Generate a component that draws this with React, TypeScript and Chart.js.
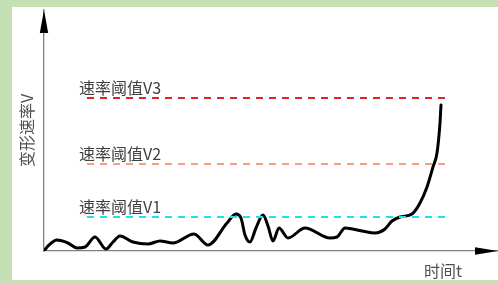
import React, { useEffect, useRef } from "react";
import { Chart, registerables } from "chart.js";

Chart.register(...registerables);

// Deformation-rate curve (time t, rate V) (arbitrary units)
const curveT = [0, 4, 13, 24, 33, 41, 51, 62, 69, 76, 89, 104, 116, 129, 150, 164, 183, 192, 197, 201, 206, 212, 219, 224, 229, 235, 244, 261, 286, 293, 301, 318, 331, 341, 348, 356, 368, 376, 383, 389, 393, 396, 397];
const curveV = [0, 5, 11, 8, 3, 4, 14, 2, 9, 15, 9, 7, 10, 8, 17, 6, 28, 37, 33, 16, 9, 23, 36, 25, 10, 23, 13, 23, 13, 14, 23, 20, 18, 22, 30, 34, 37, 48, 64, 84, 98, 128, 146];

// Thresholds
const thresholdNames = ["速率阈值V1", "速率阈值V2", "速率阈值V3"];
const thresholdValues = [34, 87, 153];
const thresholdColors = ["#1fe0f0", "#f4a080", "#e02424"];
const thresholdStart = 43;
const thresholdEnd = 404;

const xTitle = "时间t";
const yTitle = "变形速率V";

const FONT = '"Noto Sans CJK SC", "Noto Sans", sans-serif';

export default function App() {
  const ref = useRef<HTMLCanvasElement | null>(null);

  useEffect(() => {
    if (!ref.current) return;

    const bgPlugin = {
      id: "bg",
      beforeDraw(chart: any) {
        const { ctx, width, height } = chart;
        ctx.save();
        ctx.fillStyle = "#c5e0b4";
        ctx.fillRect(0, 0, width, height);
        ctx.fillStyle = "#ffffff";
        ctx.fillRect(12, 7, width - 12, 273);
        ctx.restore();
      },
    };

    const decoPlugin = {
      id: "deco",
      afterDraw(chart: any) {
        const { ctx, chartArea } = chart;
        const xs = chart.scales.x;
        const ys = chart.scales.y;
        ctx.save();
        // arrowheads
        ctx.fillStyle = "#000000";
        ctx.beginPath();
        ctx.moveTo(chartArea.left, chartArea.top);
        ctx.lineTo(chartArea.left - 4.2, chartArea.top + 23);
        ctx.lineTo(chartArea.left + 4.2, chartArea.top + 23);
        ctx.closePath();
        ctx.fill();
        ctx.beginPath();
        ctx.moveTo(chartArea.right, chartArea.bottom);
        ctx.lineTo(chartArea.right - 23, chartArea.bottom - 3.8);
        ctx.lineTo(chartArea.right - 23, chartArea.bottom + 3.8);
        ctx.closePath();
        ctx.fill();

        // threshold labels
        ctx.fillStyle = "#404040";
        ctx.font = `16px ${FONT}`;
        ctx.textAlign = "left";
        ctx.textBaseline = "bottom";
        thresholdNames.forEach((name, i) => {
          const x = xs.getPixelForValue(thresholdStart) - 8;
          const y = ys.getPixelForValue(thresholdValues[i]) - 2;
          ctx.fillText(name, x, y);
        });

        // axis titles
        ctx.fillStyle = "#505050";
        ctx.font = `16px ${FONT}`;
        ctx.textAlign = "center";
        ctx.textBaseline = "middle";
        ctx.fillText(xTitle, chartArea.right - 55, chartArea.bottom + 20);
        ctx.save();
        ctx.translate(27, (chartArea.top + chartArea.bottom) / 2);
        ctx.rotate(-Math.PI / 2);
        ctx.font = `16px ${FONT}`;
        ctx.fillText(yTitle, 0, 0);
        ctx.restore();
        ctx.restore();
      },
    };

    const thresholdSets = thresholdValues.map((v, i) => ({
      label: thresholdNames[i],
      data: [
        { x: thresholdStart, y: v },
        { x: thresholdEnd, y: v },
      ],
      borderColor: thresholdColors[i],
      borderWidth: 2,
      borderDash: [7, 6],
      pointRadius: 0,
      fill: false,
    }));

    const chart = new Chart(ref.current, {
      type: "line",
      data: {
        datasets: [
          ...thresholdSets,
          {
            label: "变形速率",
            data: curveT.map((t, i) => ({ x: t, y: curveV[i] })),
            borderColor: "#000000",
            borderWidth: 3,
            borderCapStyle: "round",
            borderJoinStyle: "round",
            cubicInterpolationMode: "monotone",
            pointRadius: 0,
            fill: false,
          },
        ] as any,
      },
      options: {
        animation: false,
        responsive: false,
        layout: { padding: { left: 44, right: 0, top: 10, bottom: 33 } },
        plugins: {
          legend: { display: false },
          tooltip: { enabled: false },
        },
        scales: {
          x: {
            type: "linear",
            min: 0,
            max: 454,
            ticks: { display: false },
            grid: { display: false, drawTicks: false },
            border: { display: true, color: "#808080", width: 1.3 },
            afterFit: (s: any) => {
              s.height = 0;
            },
          },
          y: {
            type: "linear",
            min: 0,
            max: 241,
            ticks: { display: false },
            grid: { display: false, drawTicks: false },
            border: { display: true, color: "#808080", width: 1.3 },
            afterFit: (s: any) => {
              s.width = 0;
            },
          },
        },
      } as any,
      plugins: [bgPlugin, decoPlugin],
    });

    return () => chart.destroy();
  }, []);

  return (
    <div style={{ position: "absolute", left: 0, top: 0, width: 498, height: 284 }}>
      <canvas ref={ref} width={498} height={284} style={{ display: "block" }} />
    </div>
  );
}
